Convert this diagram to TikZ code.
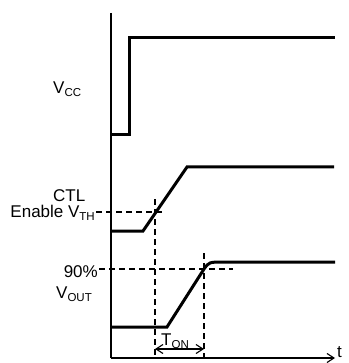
\documentclass[tikz,border=0pt]{standalone}
\usepackage{fontspec}
\setmainfont{Liberation Sans}
\usetikzlibrary{arrows.meta}

\newcommand{\sigsub}[2]{#1\raisebox{-3pt}{\fontsize{11.5pt}{11.5pt}\selectfont #2}}

\begin{document}
\begin{tikzpicture}[x=1pt, y=-1pt, font=\fontsize{17pt}{20pt}\selectfont,
    axis/.style={line width=1.1pt},
    signal/.style={line width=3pt},
    guide/.style={line width=1.1pt, dash pattern=on 6pt off 4pt},
    barb/.style={-{Straight Barb[length=7pt,width=9pt]}},
    lbl/.style={inner sep=0pt}]
\useasboundingbox (0,0) rectangle (348,363);

\coordinate (top) at (111,13);
\coordinate (origin) at (111,358);
\coordinate (tend) at (335,358);

\draw[axis] (top) -- (origin);
\draw[axis, barb] (origin) -- (tend);
\node[lbl, anchor=base west] (t) at (337,357) {t};

\draw[signal] (111,135) -- (129,135) -- (129,38) -- (335,38);
\draw[signal] (111,231) -- (143,231) -- (187,167) -- (334,167);
\draw[signal] (111,327) -- (167,327) -- (204,269) .. controls (209,262) .. (225,262) -- (335,262);

\node[lbl, anchor=base west] (vcc) at (53,94) {\sigsub{V}{CC}};
\node[lbl, anchor=base west] (ctl) at (53,201) {CTL};
\node[lbl, anchor=base east] (vth) at (95,217) {Enable \sigsub{V}{TH}};
\node[lbl, anchor=base east] (pct) at (98,277) {90\%};
\node[lbl, anchor=base west] (vout) at (56,298) {\sigsub{V}{OUT}};
\node[lbl, anchor=base west] (ton) at (161,345) {\sigsub{T}{ON}};

\coordinate (thl) at (96,212);
\coordinate (thr) at (165,212);
\coordinate (ont) at (155,199);
\coordinate (onb) at (155,358);
\coordinate (pl) at (99,269);
\coordinate (pr) at (233,269);
\coordinate (offt) at (204,253);
\coordinate (offb) at (204,358);
\coordinate (tonl) at (155,349);
\coordinate (tonr) at (204,349);

\draw[guide] (thl) -- (thr);
\draw[guide] (ont) -- (onb);
\draw[guide] (pl) -- (pr);
\draw[guide] (offt) -- (offb);

\draw[axis, {Straight Barb[length=7pt,width=9pt]}-{Straight Barb[length=7pt,width=9pt]}] (tonl) -- (tonr);
\end{tikzpicture}
\end{document}
